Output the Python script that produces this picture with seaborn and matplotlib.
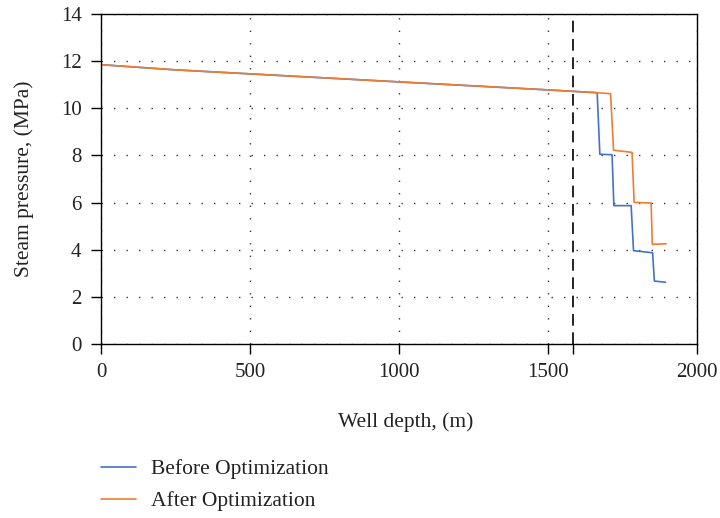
import matplotlib
matplotlib.use("Agg")
import matplotlib.pyplot as plt
import seaborn as sns
import pandas as pd

# Data
before_depth = [0, 250, 500, 1000, 1500, 1665, 1674, 1715, 1721, 1779, 1787, 1851, 1857, 1894]
before_pressure = [11.85, 11.63, 11.46, 11.12, 10.78, 10.66, 8.05, 8.03, 5.87, 5.87, 3.96, 3.87, 2.67, 2.62]
after_depth = [0, 250, 500, 1000, 1500, 1665, 1710, 1720, 1782, 1789, 1846, 1850, 1896]
after_pressure = [11.85, 11.63, 11.46, 11.12, 10.78, 10.66, 10.62, 8.22, 8.13, 6.01, 5.98, 4.23, 4.25]
series_names = ["Before Optimization", "After Optimization"]
series_colors = ["#4472C4", "#ED7D31"]
marker_depth = 1585
x_ticks = [0, 500, 1000, 1500, 2000]
y_ticks = [0, 2, 4, 6, 8, 10, 12, 14]

sns.set_theme(style="white")
plt.rcParams["font.family"] = ["Liberation Serif", "DejaVu Serif"]

fig = plt.figure(figsize=(7.2, 5.18), dpi=100)
ax = fig.add_axes([101 / 720, 1 - 344 / 518, 596 / 720, 330 / 518])

for name, color, xs, ys in zip(series_names, series_colors,
                               [before_depth, after_depth], [before_pressure, after_pressure]):
    sns.lineplot(x=xs, y=ys, color=color, sort=False, estimator=None, ax=ax,
                 linewidth=1.2, label=name, legend=False)

ax.axvline(marker_depth, color="black", linestyle=(0, (7, 4)), linewidth=1.2, zorder=1)

ax.set_xlim(0, 2000)
ax.set_ylim(0, 14)
ax.set_xticks(x_ticks)
ax.set_yticks(y_ticks)
ax.set_xticks([marker_depth], minor=True)
ax.tick_params(axis="both", which="both", direction="out", length=7, width=1, color="black",
               labelsize=15, labelcolor="#222222", bottom=True, left=True)
ax.tick_params(axis="x", pad=7)
ax.tick_params(axis="y", pad=7)

ax.grid(True, which="major", color="#333333", linestyle=(0, (1, 8)), linewidth=1.0)
for sp in ax.spines.values():
    sp.set_visible(True)
    sp.set_color("black")
    sp.set_linewidth(1.0)

ax.set_xlabel("Well depth, (m)", fontsize=15.5, color="#222222")
ax.xaxis.set_label_coords(0.512, -0.208)
ax.set_ylabel("Steam pressure, (MPa)", fontsize=15.5, color="#222222", labelpad=19)

handles, labels = ax.get_legend_handles_labels()
fig.legend(handles, labels, loc="lower left", bbox_to_anchor=(0.114, -0.024), frameon=False,
           fontsize=15.5, handlelength=1.6, handletextpad=0.7, labelspacing=0.54,
           labelcolor="#222222")

fig.savefig("out.png", dpi=100)
